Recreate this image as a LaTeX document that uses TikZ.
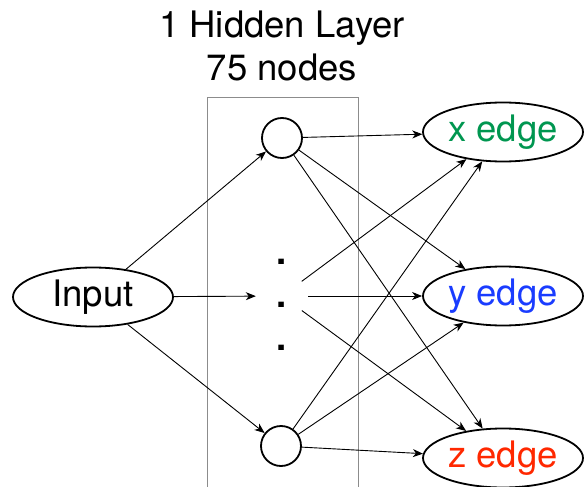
\documentclass[tikz,border=0pt]{standalone}
\usepackage{fontspec}
\setmainfont{TeX Gyre Heros}
\usetikzlibrary{shapes.geometric,arrows.meta}
\definecolor{xgreen}{RGB}{0,150,80}
\definecolor{yblue}{RGB}{26,60,255}
\definecolor{zred}{RGB}{255,40,0}
\definecolor{framegray}{RGB}{140,140,140}
\tikzset{
  big/.style={font=\fontsize{36.5}{44}\selectfont},
  oval/.style={ellipse, draw, line width=1.8pt, minimum width=160pt, minimum height=59pt,
    inner sep=0pt, big},
  neuron/.style={circle, draw, line width=1.8pt, minimum size=40pt, inner sep=0pt},
  wire/.style={line width=0.9pt, -{Stealth[length=10pt, width=8pt, inset=3pt]}},
}
\begin{document}
\begin{tikzpicture}[x=1pt, y=-1pt]
\useasboundingbox (0,0) rectangle (584,487);

% title above the hidden layer
\node[big, anchor=base, inner sep=0pt] (t1) at (282,38) {1 Hidden Layer};
\node[big, anchor=base, inner sep=0pt] (t2) at (282,81) {75 nodes};

% frame around the hidden layer
\draw[framegray, line width=0.9pt] (207,487.5) -- (207,97) -- (358,97) -- (358,487.5);

% input and outputs
\node[oval] (in) at (93,297) {Input};
\node[oval, text=xgreen] (ox) at (503,132) {x edge};
\node[oval, text=yblue] (oy) at (503,296) {y edge};
\node[oval, text=zred] (oz) at (503,458) {z edge};

% hidden neurons
\node[neuron] (h1) at (282,138) {};
\node[neuron] (h2) at (281,446) {};
\node[ellipse, minimum width=52pt, minimum height=44pt, inner sep=0pt] (hm) at (282,296) {};
\foreach \i/\y in {1/264,2/307,3/350}
  \node[big, font=\fontsize{36.5}{44}\selectfont\bfseries, anchor=base, inner sep=0pt] (d\i) at (282,\y) {.};

% connections
\draw[wire] (in) -- (h1);
\draw[wire] (in) -- (hm);
\draw[wire] (in) -- (h2);
\foreach \h in {h1,hm,h2}
  \foreach \o in {ox,oy,oz}
    \draw[wire] (\h) -- (\o);
\end{tikzpicture}
\end{document}
